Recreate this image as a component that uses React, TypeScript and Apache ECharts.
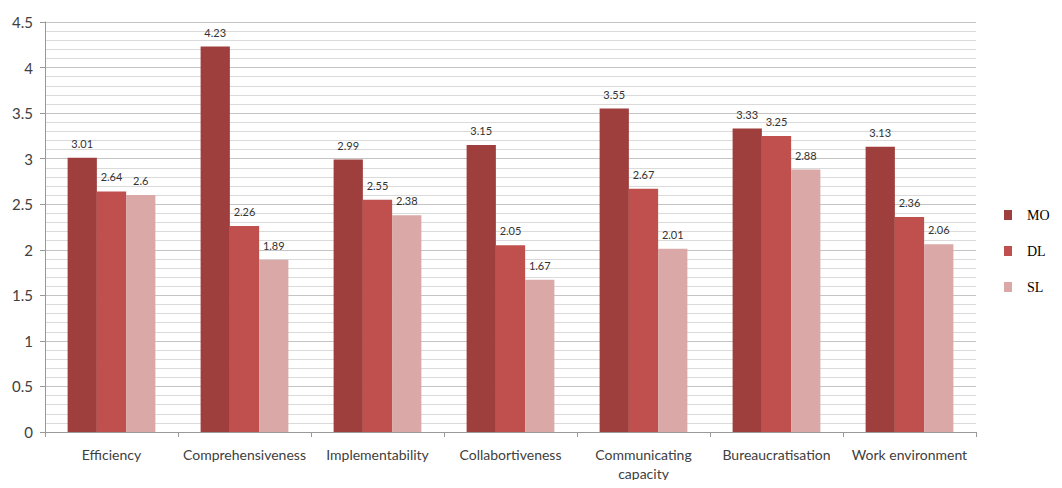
import React, { useEffect, useRef } from "react";
import * as echarts from "echarts";

const categories = [
  "Efficiency",
  "Comprehensiveness",
  "Implementability",
  "Collabortiveness",
  "Communicating\ncapacity",
  "Bureaucratisation",
  "Work environment",
];
const seriesNames = ["MO", "DL", "SL"];
const moValues = [3.01, 4.23, 2.99, 3.15, 3.55, 3.33, 3.13];
const dlValues = [2.64, 2.26, 2.55, 2.05, 2.67, 3.25, 2.36];
const slValues = [2.6, 1.89, 2.38, 1.67, 2.01, 2.88, 2.06];
const colors = ["#9E3E3D", "#C0504D", "#DAA8A7"];

const labelFont = "Lato, 'Open Sans', sans-serif";

export default function App() {
  const ref = useRef<HTMLDivElement>(null);

  useEffect(() => {
    if (!ref.current) return;
    const chart = echarts.init(ref.current, undefined, { renderer: "svg" });
    const values = [moValues, dlValues, slValues];
    chart.setOption({
      animation: false,
      backgroundColor: "#ffffff",
      grid: { left: 45, right: 86, top: 22, bottom: 56, containLabel: false },
      legend: {
        orient: "vertical",
        left: 999,
        top: 203,
        itemWidth: 8,
        itemHeight: 10,
        itemGap: 22,
        icon: "rect",
        textStyle: {
          fontFamily: "'Liberation Serif', 'DejaVu Serif', serif",
          fontSize: 14,
          color: "#000",
          padding: [0, 0, 0, 10],
        },
        data: seriesNames,
      },
      xAxis: {
        type: "category",
        data: categories,
        axisLine: { lineStyle: { color: "#999", width: 1 } },
        axisTick: { show: true, alignWithLabel: false, length: 5, lineStyle: { color: "#999" } },
        axisLabel: {
          fontFamily: labelFont,
          fontSize: 14,
          color: "#404040",
          margin: 13,
          lineHeight: 19,
          interval: 0,
        },
      },
      yAxis: {
        type: "value",
        min: 0,
        max: 4.5,
        interval: 0.5,
        axisLine: { show: true, lineStyle: { color: "#999" } },
        axisTick: { show: true, length: 5, lineStyle: { color: "#999" } },
        axisLabel: {
          fontFamily: labelFont,
          fontSize: 15,
          color: "#404040",
          margin: 12,
        },
        splitLine: { show: true, lineStyle: { color: "#c4c4c4", width: 1 } },
        minorTick: { show: false, splitNumber: 5 },
        minorSplitLine: { show: true, lineStyle: { color: "#dadada", width: 1 } },
      },
      series: seriesNames.map((name, i) => ({
        name,
        type: "bar",
        data: values[i],
        barGap: "0%",
        barCategoryGap: "34%",
        itemStyle: { color: colors[i] },
        label: {
          show: true,
          position: "top",
          distance: 9,
          fontFamily: labelFont,
          fontSize: 11,
          color: "#333",
        },
      })),
    });
    return () => chart.dispose();
  }, []);

  return <div ref={ref} style={{ width: 1062, height: 488, margin: -8 }} />;
}
